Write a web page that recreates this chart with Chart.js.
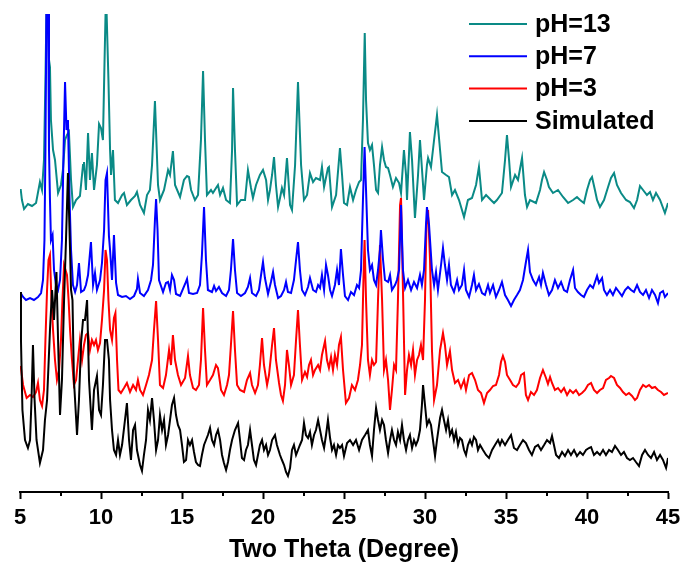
<!DOCTYPE html>
<html>
<head>
<meta charset="utf-8">
<script src="https://cdn.jsdelivr.net/npm/chart.js@4/dist/chart.umd.min.js"></script>
<style>
html,body{margin:0;padding:0;background:#fff;}
canvas{display:block;}
</style>
</head>
<body>
<canvas id="c" width="688" height="566"></canvas>
<script>
// Legend labels and colours
const seriesLabels = ['pH=13', 'pH=7', 'pH=3', 'Simulated'];
const seriesColors = ['#0A8A86', '#0000FF', '#FF0000', '#000000'];
const xTickLabels = [5, 10, 15, 20, 25, 30, 35, 40, 45];

// [two theta (deg), stacked intensity (a.u.)]
const pH13 = [
[5.04,303],[5.12,292],[5.25,283],[5.49,288],[5.74,286],[5.99,289],[6.23,310],[6.36,302],[6.48,332],[6.57,412],[6.65,500],[6.73,500],[6.79,432],[6.85,425],[6.91,372],[7.04,342],[7.16,332],[7.35,299],[7.53,307],[7.65,322],[7.78,352],[7.9,357],[8.02,360],[8.15,312],[8.27,285],[8.46,292],[8.7,296],[8.89,327],[8.95,330],[9.07,302],[9.2,359],[9.32,312],[9.44,339],[9.57,302],[9.75,327],[9.88,368],[10.0,364],[10.12,352],[10.22,432],[10.31,500],[10.37,500],[10.46,412],[10.56,342],[10.62,317],[10.74,342],[10.86,292],[11.05,289],[11.3,297],[11.42,299],[11.6,287],[11.85,292],[12.1,296],[12.22,300],[12.41,287],[12.65,279],[12.84,297],[13.02,302],[13.15,327],[13.33,391],[13.52,307],[13.64,292],[13.89,302],[14.14,322],[14.26,317],[14.44,341],[14.57,307],[14.88,295],[15.12,312],[15.31,316],[15.43,315],[15.56,302],[15.8,292],[15.99,297],[16.17,352],[16.3,421],[16.42,352],[16.54,297],[16.79,302],[16.91,299],[17.1,304],[17.22,307],[17.35,297],[17.53,304],[17.72,292],[17.96,289],[18.09,342],[18.15,404],[18.27,342],[18.4,287],[18.64,292],[18.89,292],[19.07,322],[19.26,304],[19.38,294],[19.57,307],[19.81,317],[20.0,322],[20.19,312],[20.31,292],[20.43,302],[20.56,317],[20.68,335],[20.8,307],[20.93,285],[21.05,294],[21.17,304],[21.3,297],[21.48,334],[21.67,287],[21.79,282],[21.98,327],[22.16,410],[22.35,327],[22.53,292],[22.72,297],[22.9,319],[23.09,310],[23.27,314],[23.52,312],[23.64,325],[23.77,305],[24.01,324],[24.07,325],[24.26,285],[24.51,297],[24.75,344],[24.88,317],[25.0,289],[25.19,287],[25.37,305],[25.56,292],[25.74,302],[25.93,310],[26.05,312],[26.17,372],[26.28,459],[26.36,392],[26.48,349],[26.6,342],[26.73,347],[26.85,327],[26.98,302],[27.1,299],[27.22,327],[27.35,345],[27.47,332],[27.59,325],[27.72,324],[27.84,317],[28.02,305],[28.21,314],[28.4,309],[28.52,299],[28.7,342],[28.83,317],[28.89,292],[29.07,360],[29.2,332],[29.38,274],[29.57,317],[29.69,352],[29.88,307],[29.94,292],[30.12,327],[30.19,334],[30.37,325],[30.56,352],[30.74,377],[30.93,342],[31.05,320],[31.3,317],[31.48,315],[31.67,297],[31.85,302],[32.1,292],[32.41,275],[32.65,292],[32.9,294],[33.15,307],[33.33,325],[33.52,292],[33.77,297],[34.07,292],[34.26,289],[34.44,292],[34.75,299],[34.94,332],[35.06,357],[35.19,332],[35.31,305],[35.56,317],[35.74,312],[35.99,334],[36.17,297],[36.3,285],[36.48,292],[36.85,289],[37.1,302],[37.22,312],[37.35,320],[37.53,312],[37.65,305],[37.9,299],[38.21,302],[38.52,295],[38.83,289],[39.14,292],[39.38,295],[39.57,292],[39.81,289],[40.0,302],[40.19,312],[40.31,315],[40.49,302],[40.62,292],[40.8,285],[41.05,292],[41.3,305],[41.48,314],[41.67,319],[41.85,307],[42.1,299],[42.41,292],[42.65,290],[42.9,284],[43.09,292],[43.27,306],[43.46,302],[43.7,297],[43.89,300],[44.07,292],[44.26,299],[44.51,292],[44.81,279],[45.0,289]
];

const pH7 = [
[5.04,199],[5.19,195],[5.37,192],[5.62,194],[5.86,192],[6.11,195],[6.3,199],[6.42,212],[6.51,252],[6.57,342],[6.64,500],[6.73,500],[6.79,342],[6.85,292],[6.91,252],[7.01,257],[7.1,222],[7.22,207],[7.35,202],[7.47,212],[7.59,252],[7.69,342],[7.78,410],[7.87,362],[7.96,372],[8.06,292],[8.15,242],[8.27,207],[8.4,200],[8.52,207],[8.64,229],[8.77,200],[8.95,202],[9.07,207],[9.2,217],[9.38,250],[9.51,207],[9.63,219],[9.75,202],[9.94,212],[10.06,229],[10.19,262],[10.28,312],[10.37,319],[10.49,256],[10.56,242],[10.68,212],[10.8,257],[10.93,209],[11.05,197],[11.3,195],[11.54,196],[11.79,193],[12.04,196],[12.22,203],[12.28,213],[12.41,199],[12.65,196],[12.9,202],[13.09,212],[13.21,227],[13.33,272],[13.4,293],[13.49,262],[13.58,212],[13.83,200],[14.01,209],[14.14,210],[14.26,202],[14.38,217],[14.51,212],[14.63,198],[14.88,196],[15.19,208],[15.31,213],[15.43,199],[15.68,198],[15.93,199],[16.11,207],[16.23,237],[16.36,285],[16.48,232],[16.6,202],[16.85,200],[16.98,206],[17.1,201],[17.28,205],[17.47,199],[17.72,196],[17.9,202],[18.02,222],[18.15,253],[18.27,222],[18.4,199],[18.64,196],[18.89,199],[19.07,205],[19.2,214],[19.32,199],[19.57,196],[19.75,202],[19.88,217],[20.0,230],[20.12,214],[20.31,198],[20.49,210],[20.62,220],[20.74,207],[20.93,194],[21.11,196],[21.3,202],[21.42,210],[21.54,200],[21.73,199],[21.91,212],[22.04,232],[22.16,250],[22.28,222],[22.41,202],[22.59,197],[22.78,205],[22.9,214],[23.09,202],[23.27,200],[23.4,207],[23.52,204],[23.64,217],[23.77,202],[23.89,227],[24.01,217],[24.14,202],[24.26,196],[24.44,207],[24.57,222],[24.69,207],[24.81,243],[24.94,217],[25.06,196],[25.25,192],[25.43,200],[25.62,197],[25.8,207],[25.93,204],[26.05,222],[26.17,292],[26.27,345],[26.36,302],[26.48,242],[26.6,222],[26.73,227],[26.85,212],[26.98,207],[27.1,222],[27.22,242],[27.28,262],[27.41,232],[27.53,212],[27.72,210],[27.84,217],[27.96,202],[28.15,207],[28.27,212],[28.4,222],[28.52,287],[28.64,222],[28.77,204],[28.95,212],[29.14,202],[29.32,210],[29.51,204],[29.69,217],[29.81,207],[29.94,222],[30.06,267],[30.12,285],[30.25,267],[30.31,252],[30.43,222],[30.56,207],[30.68,220],[30.8,202],[30.99,227],[31.11,244],[31.23,227],[31.36,212],[31.48,227],[31.6,207],[31.79,200],[31.98,212],[32.1,202],[32.28,207],[32.41,222],[32.53,202],[32.72,195],[32.9,207],[33.02,217],[33.15,202],[33.33,208],[33.52,199],[33.7,197],[33.89,207],[34.01,199],[34.2,207],[34.38,195],[34.57,202],[34.75,210],[34.94,197],[35.12,192],[35.31,186],[35.49,192],[35.68,197],[35.86,202],[36.05,212],[36.23,230],[36.36,242],[36.48,220],[36.67,212],[36.85,207],[37.04,215],[37.16,207],[37.28,219],[37.47,207],[37.65,197],[37.84,202],[38.02,212],[38.21,204],[38.4,210],[38.58,202],[38.77,200],[38.95,212],[39.14,222],[39.26,204],[39.44,200],[39.63,197],[39.81,195],[40.0,202],[40.19,207],[40.37,204],[40.62,216],[40.74,209],[40.93,214],[41.05,202],[41.23,197],[41.42,202],[41.6,197],[41.79,204],[41.98,200],[42.16,196],[42.35,202],[42.53,205],[42.72,202],[42.9,200],[43.09,207],[43.27,200],[43.46,197],[43.64,202],[43.83,194],[44.01,202],[44.2,197],[44.38,189],[44.51,199],[44.69,201],[44.81,195],[45.0,199]
];

const pH3 = [
[5.04,126],[5.19,107],[5.41,94],[5.62,97],[5.8,95],[5.99,100],[6.11,109],[6.23,92],[6.36,86],[6.48,102],[6.57,152],[6.67,202],[6.76,232],[6.85,237],[6.94,192],[7.04,162],[7.16,132],[7.28,112],[7.41,122],[7.53,152],[7.62,192],[7.72,227],[7.81,222],[7.9,217],[8.0,192],[8.09,162],[8.21,132],[8.33,107],[8.46,112],[8.58,132],[8.7,152],[8.83,132],[8.95,147],[9.07,157],[9.2,159],[9.32,142],[9.44,152],[9.57,147],[9.69,152],[9.81,142],[9.94,149],[10.06,172],[10.19,202],[10.28,242],[10.37,232],[10.46,192],[10.56,162],[10.68,152],[10.8,174],[10.89,179],[10.99,132],[11.08,102],[11.23,99],[11.42,104],[11.6,109],[11.79,100],[11.98,107],[12.16,102],[12.28,112],[12.41,102],[12.59,97],[12.78,107],[12.96,117],[13.15,132],[13.27,162],[13.4,191],[13.52,152],[13.64,107],[13.83,104],[14.01,117],[14.2,142],[14.32,127],[14.44,157],[14.57,132],[14.75,117],[14.94,107],[15.19,114],[15.37,136],[15.49,117],[15.68,104],[15.86,102],[16.05,107],[16.17,132],[16.3,184],[16.42,142],[16.54,107],[16.73,112],[16.91,117],[17.1,127],[17.22,124],[17.41,102],[17.59,97],[17.78,107],[17.9,117],[18.02,147],[18.15,181],[18.27,142],[18.4,107],[18.58,102],[18.83,100],[19.01,112],[19.2,119],[19.32,107],[19.51,99],[19.69,107],[19.81,127],[19.94,154],[20.06,127],[20.25,107],[20.37,117],[20.56,147],[20.68,164],[20.8,132],[20.99,109],[21.11,97],[21.23,91],[21.36,107],[21.48,142],[21.6,127],[21.73,107],[21.91,117],[22.04,152],[22.16,182],[22.28,147],[22.41,112],[22.59,120],[22.72,115],[22.84,127],[22.96,132],[23.09,117],[23.21,122],[23.4,127],[23.52,122],[23.64,137],[23.83,151],[23.95,132],[24.07,124],[24.2,135],[24.32,122],[24.44,137],[24.57,127],[24.69,147],[24.81,155],[24.94,122],[25.12,89],[25.31,94],[25.49,107],[25.68,102],[25.86,112],[25.99,127],[26.11,147],[26.2,212],[26.27,252],[26.36,192],[26.48,132],[26.6,117],[26.73,132],[26.85,127],[26.98,130],[27.1,192],[27.22,247],[27.35,192],[27.47,122],[27.59,132],[27.72,112],[27.84,82],[27.96,102],[28.09,127],[28.21,122],[28.33,192],[28.46,287],[28.52,294],[28.64,202],[28.77,97],[28.89,122],[29.01,137],[29.14,127],[29.26,142],[29.38,117],[29.51,132],[29.63,137],[29.75,147],[29.88,132],[30.0,192],[30.09,267],[30.19,282],[30.31,232],[30.43,142],[30.56,92],[30.74,107],[30.93,142],[31.11,159],[31.23,147],[31.36,127],[31.54,141],[31.67,122],[31.85,109],[32.04,112],[32.22,104],[32.41,112],[32.53,102],[32.72,117],[32.9,119],[33.09,112],[33.27,102],[33.46,99],[33.64,89],[33.83,99],[34.01,102],[34.2,106],[34.38,107],[34.57,117],[34.69,130],[34.81,136],[34.94,130],[35.06,117],[35.25,112],[35.43,107],[35.62,105],[35.8,109],[35.93,117],[36.11,119],[36.23,97],[36.36,92],[36.54,100],[36.73,97],[36.91,102],[37.1,114],[37.28,122],[37.47,114],[37.59,108],[37.72,115],[37.84,109],[38.02,102],[38.21,104],[38.4,100],[38.58,104],[38.77,97],[38.95,102],[39.14,99],[39.32,102],[39.51,97],[39.69,99],[39.88,102],[40.06,107],[40.25,109],[40.43,102],[40.62,99],[40.8,102],[40.99,104],[41.17,112],[41.36,114],[41.48,116],[41.67,114],[41.85,107],[42.04,104],[42.22,100],[42.41,97],[42.59,99],[42.78,96],[42.96,92],[43.09,94],[43.27,102],[43.46,107],[43.64,105],[43.83,107],[44.01,104],[44.2,105],[44.38,102],[44.57,100],[44.75,97],[45.0,99]
];

const simulated = [
[5.0,200],[5.06,152],[5.15,82],[5.31,52],[5.49,44],[5.62,52],[5.71,92],[5.8,147],[5.9,92],[6.02,52],[6.23,29],[6.42,42],[6.54,72],[6.67,92],[6.85,162],[6.98,202],[7.1,172],[7.25,220],[7.35,152],[7.47,77],[7.59,112],[7.72,192],[7.84,252],[7.96,319],[8.09,242],[8.15,202],[8.24,192],[8.33,112],[8.52,57],[8.64,92],[8.77,149],[8.89,172],[9.01,172],[9.14,192],[9.26,112],[9.44,62],[9.57,102],[9.75,116],[9.88,82],[10.0,77],[10.12,107],[10.25,152],[10.37,152],[10.49,132],[10.56,92],[10.68,62],[10.8,42],[10.93,37],[11.05,52],[11.17,37],[11.3,47],[11.48,72],[11.6,89],[11.73,52],[11.85,32],[11.98,62],[12.1,67],[12.22,42],[12.41,27],[12.53,21],[12.65,37],[12.78,52],[12.9,82],[13.02,72],[13.15,94],[13.27,72],[13.4,42],[13.52,52],[13.64,77],[13.77,62],[13.89,72],[14.01,47],[14.14,57],[14.26,72],[14.38,87],[14.51,94],[14.63,77],[14.75,67],[14.88,62],[15.0,47],[15.12,30],[15.25,32],[15.37,52],[15.49,47],[15.62,52],[15.74,40],[15.86,30],[15.99,27],[16.11,26],[16.23,37],[16.36,47],[16.48,52],[16.6,57],[16.73,64],[16.85,52],[16.98,47],[17.1,57],[17.22,62],[17.35,52],[17.47,37],[17.59,29],[17.72,22],[17.84,30],[17.96,42],[18.09,52],[18.27,62],[18.46,69],[18.58,52],[18.7,34],[18.83,32],[18.95,42],[19.07,47],[19.2,62],[19.32,47],[19.44,32],[19.57,27],[19.69,37],[19.81,47],[19.94,52],[20.06,42],[20.19,47],[20.31,37],[20.43,42],[20.56,52],[20.74,57],[20.86,47],[21.05,37],[21.17,32],[21.3,27],[21.42,20],[21.54,16],[21.67,24],[21.79,42],[21.91,47],[22.04,37],[22.16,42],[22.28,47],[22.41,52],[22.53,69],[22.65,57],[22.78,54],[22.9,60],[23.02,47],[23.15,57],[23.27,62],[23.4,72],[23.52,62],[23.64,52],[23.77,44],[23.89,57],[24.01,72],[24.14,54],[24.26,42],[24.38,47],[24.51,37],[24.63,47],[24.75,44],[24.88,47],[25.0,36],[25.19,49],[25.37,52],[25.56,47],[25.74,52],[25.93,42],[26.11,52],[26.3,57],[26.48,62],[26.6,47],[26.73,36],[26.85,62],[26.98,84],[27.1,72],[27.22,62],[27.35,72],[27.47,67],[27.59,52],[27.72,39],[27.84,52],[27.96,62],[28.09,52],[28.21,47],[28.33,60],[28.46,52],[28.58,67],[28.7,52],[28.83,42],[28.95,52],[29.07,57],[29.2,44],[29.32,52],[29.44,47],[29.57,52],[29.69,62],[29.81,87],[29.88,107],[30.0,87],[30.12,67],[30.25,72],[30.37,67],[30.49,52],[30.62,36],[30.74,52],[30.93,74],[31.05,82],[31.17,72],[31.3,62],[31.42,72],[31.54,57],[31.67,62],[31.79,52],[31.91,60],[32.04,47],[32.16,54],[32.28,52],[32.41,42],[32.53,37],[32.65,47],[32.78,52],[32.9,47],[33.02,55],[33.15,52],[33.27,42],[33.4,47],[33.58,42],[33.77,37],[33.95,34],[34.14,42],[34.32,47],[34.51,52],[34.63,47],[34.75,52],[34.94,47],[35.12,52],[35.31,57],[35.49,44],[35.68,42],[35.86,47],[36.05,52],[36.23,49],[36.42,42],[36.6,37],[36.79,45],[36.98,47],[37.16,42],[37.35,47],[37.53,52],[37.72,49],[37.84,56],[37.96,47],[38.09,37],[38.27,34],[38.46,40],[38.64,36],[38.83,42],[39.01,37],[39.2,42],[39.38,36],[39.57,40],[39.75,37],[39.94,42],[40.12,44],[40.25,45],[40.43,37],[40.62,40],[40.8,37],[40.99,42],[41.17,37],[41.36,42],[41.54,40],[41.73,46],[41.91,42],[42.1,37],[42.28,40],[42.47,34],[42.65,32],[42.84,34],[43.02,30],[43.21,26],[43.4,37],[43.58,42],[43.77,37],[43.95,34],[44.14,40],[44.32,32],[44.51,37],[44.69,32],[44.88,24],[45.0,34]
];

const seriesData = [pH13, pH7, pH3, simulated];
const drawOrder = [3, 1, 2, 0]; // lower = drawn on top

const minorTicks = {
  id: 'minorTicks',
  afterDraw(chart) {
    const xs = chart.scales.x;
    const c = chart.ctx;
    c.save();
    c.strokeStyle = '#000';
    c.lineWidth = 2;
    for (let v = xs.min + 2.5; v < xs.max; v += 5) {
      const px = Math.round(xs.getPixelForValue(v));
      c.beginPath();
      c.moveTo(px, xs.top);
      c.lineTo(px, xs.top + 4);
      c.stroke();
    }
    c.restore();
  }
};

const customLegend = {
  id: 'customLegend',
  afterDraw(chart) {
    const c = chart.ctx;
    c.save();
    c.font = 'bold 25px "Liberation Sans", Arial, sans-serif';
    c.textBaseline = 'middle';
    c.textAlign = 'left';
    seriesLabels.forEach((lab, i) => {
      const y = 24 + i * 32.3;
      c.strokeStyle = seriesColors[i];
      c.lineWidth = 2;
      c.beginPath();
      c.moveTo(469, y);
      c.lineTo(527, y);
      c.stroke();
      c.fillStyle = '#000';
      c.fillText(lab, 535, y + 1);
    });
    c.restore();
  }
};

new Chart(document.getElementById('c'), {
  type: 'line',
  data: {
    datasets: seriesData.map((d, i) => ({
      label: seriesLabels[i],
      data: d,
      borderColor: seriesColors[i],
      borderWidth: 2,
      pointRadius: 0,
      tension: 0,
      fill: false,
      order: drawOrder[i]
    }))
  },
  options: {
    responsive: false,
    animation: false,
    layout: { padding: { left: 20, right: 20, top: 14, bottom: 0 } },
    plugins: { legend: { display: false }, tooltip: { enabled: false } },
    scales: {
      x: {
        type: 'linear',
        min: 5, max: 45,
        afterFit(scale) { scale.height = 74; },
        border: { display: true, color: '#000', width: 2 },
        grid: {
          drawOnChartArea: false,
          drawTicks: true,
          tickLength: 7,
          tickWidth: 2,
          tickColor: '#000'
        },
        afterBuildTicks(scale) {
          scale.ticks = xTickLabels.map(v => ({ value: v }));
        },
        ticks: {
          autoSkip: false,
          maxRotation: 0,
          padding: 6,
          color: '#000',
          font: { family: '"Liberation Sans", Arial, sans-serif', size: 22, weight: 'bold' }
        },
        title: {
          display: true,
          text: 'Two Theta (Degree)',
          color: '#000',
          padding: { top: 0, bottom: 1 },
          font: { family: '"Liberation Sans", Arial, sans-serif', size: 25, weight: 'bold' }
        }
      },
      y: {
        display: false,
        min: 0,
        max: 478
      }
    }
  },
  plugins: [minorTicks, customLegend]
});
</script>
</body>
</html>
